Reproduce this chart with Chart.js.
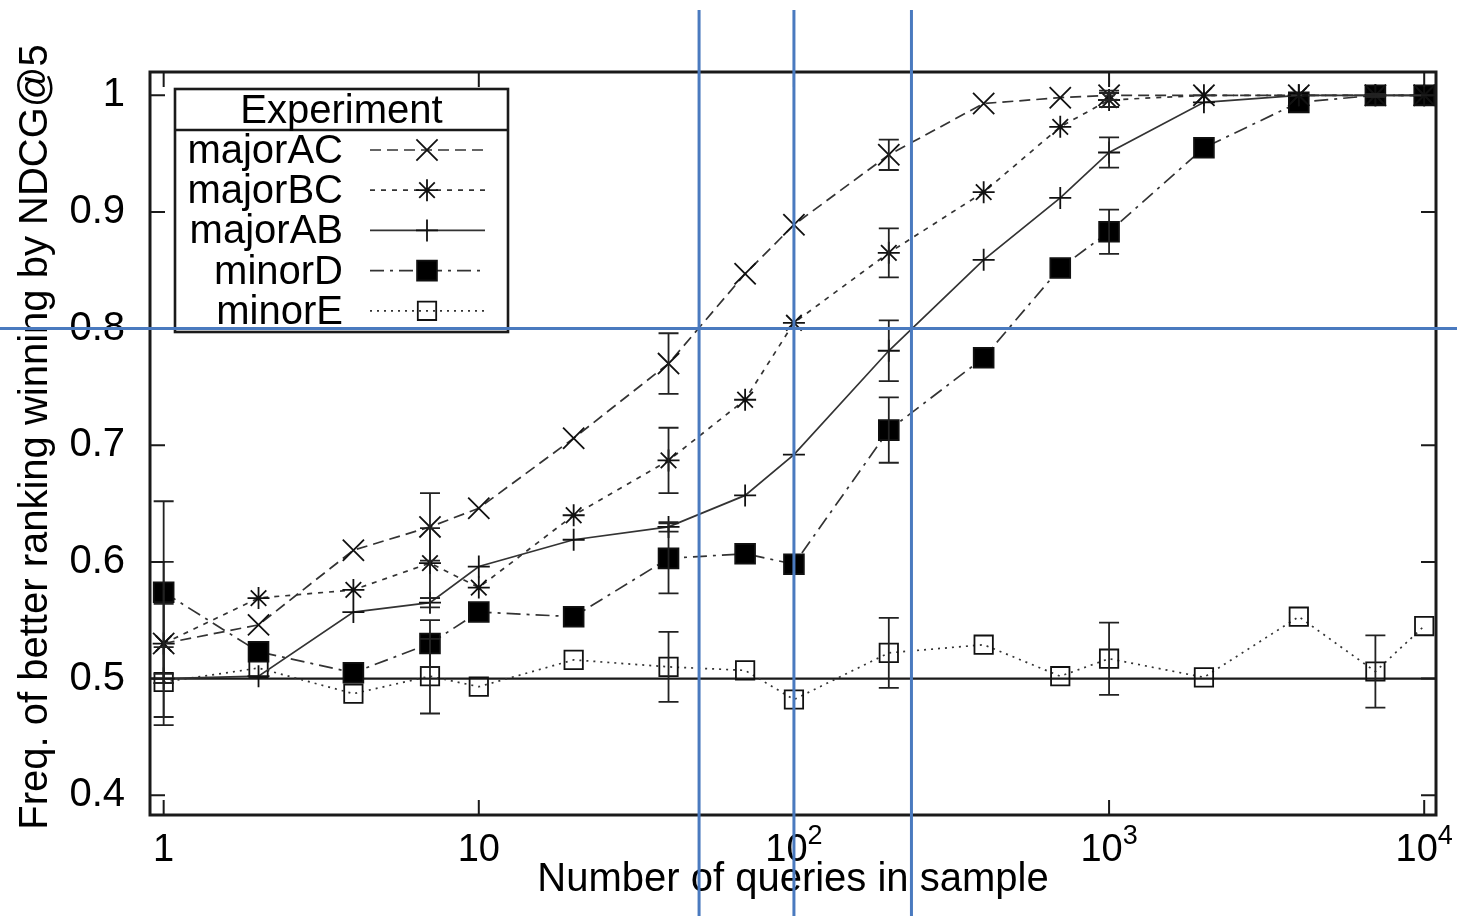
<!DOCTYPE html>
<html>
<head>
<meta charset="utf-8">
<script src="https://cdn.jsdelivr.net/npm/chart.js@4.4.1/dist/chart.umd.min.js"></script>
<style>
  html, body { margin: 0; padding: 0; background: #fff; }
  #wrap { width: 1457px; height: 922px; position: relative; }
</style>
</head>
<body>
<div id="wrap"><canvas id="chart"></canvas></div>
<script>
// sample sizes (x, log scale)
const QUERIES = [1, 2, 4, 7, 10, 20, 40, 70, 100, 200, 400, 700, 1000, 2000, 4000, 7000, 10000];

// frequency of the better ranking winning, per experiment
const MAJOR_AC = [0.530, 0.546, 0.610, 0.630, 0.646, 0.706, 0.770, 0.847, 0.889, 0.949, 0.993, 0.998, 1.000, 1.000, 1.000, 1.000, 1.000];
const MAJOR_BC = [0.530, 0.569, 0.576, 0.599, 0.578, 0.640, 0.687, 0.739, 0.805, 0.865, 0.917, 0.973, 0.996, 1.000, 1.000, 1.000, 1.000];
const MAJOR_AB = [0.500, 0.502, 0.557, 0.565, 0.596, 0.619, 0.630, 0.657, 0.692, 0.781, 0.859, 0.912, 0.951, 0.994, 1.000, 1.000, 1.000];
const MINOR_D  = [0.574, 0.523, 0.505, 0.530, 0.557, 0.553, 0.603, 0.607, 0.598, 0.713, 0.775, 0.852, 0.883, 0.955, 0.994, 1.000, 1.000];
const MINOR_E  = [0.497, 0.509, 0.487, 0.502, 0.493, 0.516, 0.510, 0.507, 0.482, 0.522, 0.529, 0.502, 0.517, 0.501, 0.553, 0.506, 0.545];

// error bar half-heights (null = no bar drawn)
const MAJOR_AC_ERR = [0.034, null, null, 0.029, null, null, 0.026, null, null, 0.013, null, null, 0.004, null, null, 0.001, null];
const MAJOR_BC_ERR = [0.070, null, null, 0.030, null, null, 0.028, null, null, 0.021, null, null, 0.006, null, null, 0.001, null];
const MAJOR_AB_ERR = [0.004, null, null, 0.004, null, null, 0.004, null, null, 0.026, null, null, 0.013, null, null, 0.001, null];
const MINOR_D_ERR  = [0.078, null, null, 0.020, null, null, 0.030, null, null, 0.028, null, null, 0.019, null, null, 0.001, null];
const MINOR_E_ERR  = [0.030, null, null, 0.032, null, null, 0.030, null, null, 0.030, null, null, 0.031, null, null, 0.031, null];

const Y_TICKS = [0.4, 0.5, 0.6, 0.7, 0.8, 0.9, 1];
const X_TICKS = [1, 10, 100, 1000, 10000];
const X_TICK_LABELS = [["1", ""], ["10", ""], ["10", "2"], ["10", "3"], ["10", "4"]];
const BASELINE = 0.5;

// blue marker lines drawn over the figure
const MARK_X = [50, 100, 236];
const MARK_Y = [0.8];

const FONT = "'Liberation Sans', Arial, Helvetica, sans-serif";
const INK = "#1a1a1a";

const pts = (arr) => QUERIES.map((q, i) => ({ x: q, y: arr[i] }));

const SERIES = [
  { label: "majorAC", values: MAJOR_AC, errors: MAJOR_AC_ERR, style: "crossRot", radius: 15, dash: [11, 6], fill: "transparent" },
  { label: "majorBC", values: MAJOR_BC, errors: MAJOR_BC_ERR, style: "star", radius: 11, dash: [5, 6], fill: "transparent" },
  { label: "majorAB", values: MAJOR_AB, errors: MAJOR_AB_ERR, style: "cross", radius: 11, dash: [], fill: "transparent" },
  { label: "minorD", values: MINOR_D, errors: MINOR_D_ERR, style: "rect", radius: 14, dash: [14, 6, 3, 6], fill: "#000" },
  { label: "minorE", values: MINOR_E, errors: MINOR_E_ERR, style: "rect", radius: 13, dash: [2, 5], fill: "transparent" },
];

// frame, inward ticks, x labels, titles and the y=0.5 reference line
const framePlugin = {
  id: "frame",
  beforeDatasetsDraw(chart) {
    const { ctx, chartArea: a, scales: { y } } = chart;
    ctx.save();
    ctx.strokeStyle = INK;
    ctx.lineWidth = 2.2;
    const yb = y.getPixelForValue(BASELINE);
    ctx.beginPath();
    ctx.moveTo(a.left, yb);
    ctx.lineTo(a.right, yb);
    ctx.stroke();
    ctx.restore();
  },
  afterDraw(chart) {
    const { ctx, chartArea: a, scales: { x, y } } = chart;
    ctx.save();
    ctx.strokeStyle = INK;
    ctx.lineWidth = 2;
    const tl = 15;
    ctx.beginPath();
    Y_TICKS.forEach((v) => {
      const py = y.getPixelForValue(v);
      ctx.moveTo(a.left, py); ctx.lineTo(a.left + tl, py);
      ctx.moveTo(a.right, py); ctx.lineTo(a.right - tl, py);
    });
    X_TICKS.forEach((v) => {
      const px = x.getPixelForValue(v);
      ctx.moveTo(px, a.bottom); ctx.lineTo(px, a.bottom - tl);
      ctx.moveTo(px, a.top); ctx.lineTo(px, a.top + tl);
    });
    ctx.stroke();
    ctx.lineWidth = 3;
    ctx.strokeRect(a.left, a.top, a.right - a.left, a.bottom - a.top);

    // x tick labels with superscript exponents
    ctx.fillStyle = "#000";
    ctx.textBaseline = "alphabetic";
    X_TICKS.forEach((v, i) => {
      const [base, exp] = X_TICK_LABELS[i];
      const px = x.getPixelForValue(v);
      ctx.font = `38px ${FONT}`;
      const wb = ctx.measureText(base).width;
      ctx.font = `27px ${FONT}`;
      const we = exp ? ctx.measureText(exp).width : 0;
      const left = px - (wb + we) / 2;
      ctx.font = `38px ${FONT}`;
      ctx.textAlign = "left";
      ctx.fillText(base, left, a.bottom + 46);
      if (exp) {
        ctx.font = `27px ${FONT}`;
        ctx.fillText(exp, left + wb, a.bottom + 29);
      }
    });

    // axis titles
    ctx.font = `40px ${FONT}`;
    ctx.textAlign = "center";
    ctx.fillText("Number of queries in sample", (a.left + a.right) / 2, a.bottom + 76);
    ctx.translate(47, 437);
    ctx.rotate(-Math.PI / 2);
    ctx.fillText("Freq. of better ranking winning by NDCG@5", 0, 0);
    ctx.restore();
  },
};

const errorPlugin = {
  id: "errorBars",
  afterDatasetsDraw(chart) {
    const { ctx, chartArea: a, scales: { x, y } } = chart;
    ctx.save();
    ctx.beginPath();
    ctx.rect(a.left, a.top, a.right - a.left, a.bottom - a.top);
    ctx.clip();
    ctx.strokeStyle = "#222";
    ctx.lineWidth = 1.8;
    chart.data.datasets.forEach((ds) => {
      ds.errors.forEach((e, i) => {
        if (e == null) return;
        const px = x.getPixelForValue(QUERIES[i]);
        const hi = y.getPixelForValue(ds.data[i].y + e);
        const lo = y.getPixelForValue(ds.data[i].y - e);
        ctx.beginPath();
        ctx.moveTo(px, hi); ctx.lineTo(px, lo);
        ctx.moveTo(px - 10, hi); ctx.lineTo(px + 10, hi);
        ctx.moveTo(px - 10, lo); ctx.lineTo(px + 10, lo);
        ctx.stroke();
      });
    });
    ctx.restore();
  },
};

// boxed legend with a title row, right-aligned names and line samples
const legendPlugin = {
  id: "boxLegend",
  afterDatasetsDraw(chart) {
    const { ctx } = chart;
    const bx = 175, by = 89, bw = 333, bh = 243, titleH = 41, rowH = 40.2;
    ctx.save();
    ctx.fillStyle = "#fff";
    ctx.fillRect(bx, by, bw, bh);
    ctx.strokeStyle = INK;
    ctx.lineWidth = 2.6;
    ctx.strokeRect(bx, by, bw, bh);
    ctx.beginPath();
    ctx.moveTo(bx, by + titleH); ctx.lineTo(bx + bw, by + titleH);
    ctx.stroke();
    ctx.fillStyle = "#000";
    ctx.font = `40px ${FONT}`;
    ctx.textAlign = "center";
    ctx.textBaseline = "middle";
    ctx.fillText("Experiment", bx + bw / 2, by + titleH / 2 + 2);
    chart.data.datasets.forEach((ds, i) => {
      const cy = by + titleH + 20 + i * rowH;
      ctx.fillStyle = "#000";
      ctx.textAlign = "right";
      ctx.font = `40px ${FONT}`;
      ctx.fillText(ds.label, bx + 168, cy + 2);
      ctx.strokeStyle = ds.borderColor;
      ctx.lineWidth = ds.borderWidth;
      ctx.setLineDash(ds.borderDash);
      ctx.beginPath();
      ctx.moveTo(bx + 195, cy); ctx.lineTo(bx + 310, cy);
      ctx.stroke();
      ctx.setLineDash([]);
      ctx.strokeStyle = ds.pointBorderColor;
      ctx.fillStyle = ds.pointBackgroundColor;
      ctx.lineWidth = ds.pointBorderWidth;
      Chart.helpers.drawPoint(ctx, { pointStyle: ds.pointStyle, rotation: 0, radius: ds.pointRadius, borderWidth: ds.pointBorderWidth }, bx + 252, cy);
    });
    ctx.restore();
  },
};

const markPlugin = {
  id: "marks",
  afterDraw(chart) {
    const { ctx, width, height, scales: { x, y } } = chart;
    ctx.save();
    ctx.strokeStyle = "#4a7abf";
    ctx.lineWidth = 3;
    ctx.beginPath();
    MARK_X.forEach((v) => {
      const px = x.getPixelForValue(v);
      ctx.moveTo(px, 10); ctx.lineTo(px, height - 6);
    });
    MARK_Y.forEach((v) => {
      const py = y.getPixelForValue(v);
      ctx.moveTo(0, py); ctx.lineTo(width, py);
    });
    ctx.stroke();
    ctx.restore();
  },
};

new Chart(document.getElementById("chart"), {
  type: "line",
  data: {
    datasets: SERIES.map((s) => ({
      label: s.label,
      data: pts(s.values),
      errors: s.errors,
      borderColor: "#333",
      borderWidth: 1.7,
      borderDash: s.dash,
      fill: false,
      tension: 0,
      pointStyle: s.style,
      pointRadius: s.radius,
      pointHoverRadius: s.radius,
      pointBorderColor: "#111",
      pointBorderWidth: 1.8,
      pointBackgroundColor: s.fill,
    })),
  },
  options: {
    responsive: true,
    maintainAspectRatio: false,
    animation: false,
    events: [],
    layout: { padding: { top: 72, right: 21, left: 0, bottom: 0 } },
    plugins: {
      legend: { display: false },
      tooltip: { enabled: false },
    },
    scales: {
      x: {
        type: "logarithmic",
        min: 0.905,
        max: 10900,
        grid: { display: false, drawTicks: false },
        border: { display: false },
        ticks: { display: false },
        afterFit: (s) => { s.height = 107; },
      },
      y: {
        min: 0.383,
        max: 1.02,
        grid: { display: false, drawTicks: false },
        border: { display: false },
        afterBuildTicks: (s) => { s.ticks = Y_TICKS.map((v) => ({ value: v })); },
        ticks: {
          color: "#000",
          padding: 25,
          font: { family: FONT, size: 40 },
          callback: (v) => (v === 1 ? "1" : v.toFixed(1)),
        },
        afterFit: (s) => { s.width = 150; },
      },
    },
  },
  plugins: [framePlugin, errorPlugin, legendPlugin, markPlugin],
});
</script>
</body>
</html>
